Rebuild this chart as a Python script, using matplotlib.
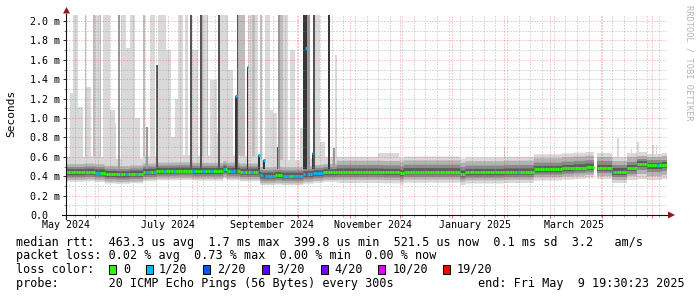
#!/usr/bin/env python3
"""SmokePing style latency chart: one year of median rtt with ping smoke."""

import matplotlib
matplotlib.use("Agg")
import matplotlib.dates as mdates
import matplotlib.pyplot as plt
import numpy as np
import pandas as pd
from matplotlib.collections import LineCollection
from matplotlib.patches import Polygon, Rectangle
from matplotlib.ticker import MultipleLocator, NullFormatter
from matplotlib.transforms import offset_copy

W, H = 697, 297
START = pd.Timestamp("2024-05-14 19:30")
END = pd.Timestamp("2025-05-09 19:30:23")
nan = float("nan")

# median rtt (ms), each value holds until the next date
median_dates = ["2024-05-14", "2024-05-26", "2024-06-01", "2024-06-07", "2024-06-14", "2024-06-22",
                "2024-06-30", "2024-07-08", "2024-07-20", "2024-07-30", "2024-08-17", "2024-08-19",
                "2024-08-27", "2024-09-08", "2024-09-09", "2024-09-17", "2024-09-21", "2024-10-04",
                "2024-10-10", "2024-10-16", "2024-10-24", "2024-11-21", "2024-12-01", "2024-12-03",
                "2025-01-06", "2025-01-09", "2025-02-01", "2025-02-19", "2025-03-08", "2025-03-15",
                "2025-03-22", "2025-03-27", "2025-03-29", "2025-04-07", "2025-04-16", "2025-04-22",
                "2025-04-28", "2025-05-07"]
median_ms = [0.440, 0.445, 0.438, 0.422, 0.418, 0.425,
             0.445, 0.455, 0.458, 0.452, 0.470, 0.455,
             0.445, 0.410, 0.405, 0.410, 0.405, 0.420,
             0.430, 0.440, 0.445, 0.442, 0.430, 0.448,
             0.425, 0.440, 0.445, 0.470, 0.480, 0.488,
             0.495, nan, 0.485, 0.446, 0.480, 0.525,
             0.512, 0.520]

# runs of days with 1/20 packet loss
loss_dates = ["2024-05-26", "2024-06-02", "2024-06-16", "2024-06-19", "2024-06-26", "2024-07-01",
              "2024-07-06", "2024-07-12", "2024-07-18", "2024-07-29", "2024-08-04", "2024-08-09",
              "2024-08-17", "2024-08-21", "2024-08-29", "2024-09-02", "2024-09-08", "2024-09-21",
              "2024-09-28", "2025-02-09", "2025-04-07", "2025-05-04"]
loss_days = [1, 2, 1, 2, 1, 3, 1, 1, 1, 2, 2, 2, 1, 3, 1, 2, 9, 5, 18, 1, 1, 1]

# single days where the median itself jumped up (all with 1/20 loss)
high_dates = ["2024-08-24", "2024-08-31", "2024-09-07", "2024-09-10", "2024-10-05", "2024-10-09"]
high_ms = [1.23, 1.53, 0.62, 0.57, 1.72, 0.64]
high_loss = [1, 1, 1, 1, 1, 1]

# smoke spread around the median (ms), outer layer first, one value per period
smoke_era_dates = ["2024-05-14", "2024-10-24", "2025-04-22"]
smoke_lo_ms = [[-0.097, -0.115, -0.150],
               [-0.078, -0.082, -0.105],
               [-0.052, -0.055, -0.065],
               [-0.030, -0.030, -0.035]]
smoke_hi_ms = [[0.160, 0.155, 0.120],
               [0.085, 0.115, 0.085],
               [0.055, 0.070, 0.050],
               [0.032, 0.035, 0.028]]

# outlier columns: first day, number of days, top (ms), pings of 20 that high
spike_dates = ["2024-05-17", "2024-05-19", "2024-05-22", "2024-05-26", "2024-05-27", "2024-05-31",
               "2024-06-01", "2024-06-04", "2024-06-06", "2024-06-10", "2024-06-15", "2024-06-17",
               "2024-06-20", "2024-06-22", "2024-06-25", "2024-06-30", "2024-07-02", "2024-07-04",
               "2024-07-08", "2024-07-09", "2024-07-14", "2024-07-17", "2024-07-21", "2024-07-25",
               "2024-07-28", "2024-07-29", "2024-08-03", "2024-08-04", "2024-08-05", "2024-08-07",
               "2024-08-09", "2024-08-14", "2024-08-15", "2024-08-20", "2024-08-24", "2024-08-25",
               "2024-08-26", "2024-08-31", "2024-09-01", "2024-09-03", "2024-09-05", "2024-09-07",
               "2024-09-08", "2024-09-10", "2024-09-11", "2024-09-14", "2024-09-18", "2024-09-19",
               "2024-09-20", "2024-09-22", "2024-09-26", "2024-10-04", "2024-10-06", "2024-10-09",
               "2024-10-10", "2024-10-11", "2024-10-14", "2024-10-19", "2024-10-22", "2024-10-23",
               "2024-11-18", "2025-02-01", "2025-04-10", "2025-04-18", "2025-04-22", "2025-05-01",
               "2025-05-03", "2024-06-12", "2024-07-19", "2024-08-12", "2024-09-16", "2024-10-02"]
spike_days = [2, 3, 3, 1, 3, 1,
              3, 1, 4, 3, 1, 3,
              2, 3, 3, 1, 1, 3,
              1, 5, 3, 2, 3, 2,
              1, 4, 1, 1, 2, 1,
              4, 1, 5, 3, 1, 1,
              4, 1, 2, 2, 2, 1,
              1, 1, 3, 2, 1, 1,
              2, 3, 3, 2, 2, 1,
              1, 3, 3, 1, 1, 1,
              12, 1, 1, 1, 1, 1,
              1, 2, 2, 2, 2, 2]
spike_top_ms = [1.26, 2.2, 1.11, 2.2, 1.32, 2.2,
                2.2, 2.2, 2.2, 1.08, 2.2, 2.2,
                1.72, 2.2, 1.00, 2.2, 0.91, 2.2,
                1.55, 2.2, 1.70, 0.80, 2.2, 2.2,
                2.2, 1.70, 2.2, 2.2, 2.2, 2.2,
                1.39, 2.2, 2.2, 1.50, 1.23, 2.2,
                2.2, 1.53, 2.2, 2.2, 2.2, 0.62,
                2.2, 0.57, 2.2, 1.08, 0.70, 2.2,
                2.2, 2.2, 1.70, 2.2, 2.2, 0.64,
                2.2, 2.2, 0.75, 2.2, 0.69, 1.65,
                0.64, 0.70, 0.79, 0.68, 0.75, 0.72,
                0.72, 0.95, 1.20, 0.85, 1.05, 0.90]
spike_pings = [1, 1, 1, 3, 1, 3,
               1, 3, 1, 1, 5, 1,
               1, 1, 1, 3, 5, 1,
               8, 1, 1, 1, 1, 1,
               8, 1, 8, 3, 1, 3,
               1, 8, 1, 1, 10, 8,
               3, 10, 1, 3, 1, 10,
               3, 10, 1, 1, 8, 5,
               3, 1, 1, 10, 5, 10,
               8, 1, 1, 10, 5, 1,
               1, 1, 1, 1, 1, 1,
               1, 1, 1, 1, 1, 1]

ytick_ms = [0.0, 0.2, 0.4, 0.6, 0.8, 1.0, 1.2, 1.4, 1.6, 1.8, 2.0]
ytick_labels = ["0.0", "0.2 m", "0.4 m", "0.6 m", "0.8 m", "1.0 m",
                "1.2 m", "1.4 m", "1.6 m", "1.8 m", "2.0 m"]
xlabel_dates = ["2024-05-15", "2024-07-15", "2024-09-15", "2024-11-15", "2025-01-15", "2025-03-15"]
xlabel_text = ["May 2024", "July 2024", "September 2024", "November 2024", "January 2025", "March 2025"]

loss_labels = ["0", "1/20", "2/20", "3/20", "4/20", "10/20", "19/20"]
loss_colors = ["#26ff00", "#00b8ff", "#0059ff", "#5e00ff", "#7e00ff", "#dd00ff", "#ff0000"]

legend_rtt = "median rtt:  463.3 us avg  1.7 ms max  399.8 us min  521.5 us now  0.1 ms sd  3.2   am/s"
legend_loss = "packet loss: 0.02 % avg  0.73 % max  0.00 % min  0.00 % now"
legend_probe = "probe:       20 ICMP Echo Pings (56 Bytes) every 300s"
legend_end = "end: Fri May  9 19:30:23 2025"

SMOKE_COLORS = ["#d8d8d8", "#b2b2b2", "#898989", "#5c5c5c"]
SPIKE_COLORS = {1: "#d9d9d9", 3: "#bdbdbd", 5: "#999999", 8: "#555555", 10: "#363636"}
MONO = "DejaVu Sans Mono"


def fpx(x, y):
    """pixel position (from top left) -> figure fraction"""
    return x / W, 1 - y / H


def step_xy(edges, vals):
    # hold each daily value over its day, NaN days break the fill
    return np.repeat(edges, 2)[1:-1], np.repeat(vals, 2)


def main() -> None:
    plt.rcParams["font.family"] = MONO
    fig = plt.figure(figsize=(W / 100, H / 100), dpi=100)
    ax = fig.add_axes([66 / W, 1 - 215 / H, 601 / W, 200 / H])

    days = pd.date_range("2024-05-14", "2025-05-09", freq="D")
    edges = mdates.date2num(list(days.to_pydatetime()) + [(days[-1] + pd.Timedelta(days=1)).to_pydatetime()])
    med = pd.Series(median_ms, index=pd.to_datetime(median_dates)).reindex(days, method="ffill").to_numpy()
    era = np.searchsorted(pd.to_datetime(smoke_era_dates).values, days.values, side="right") - 1

    # smoke
    for lo_off, hi_off, col in zip(smoke_lo_ms, smoke_hi_ms, SMOKE_COLORS):
        xs, lo = step_xy(edges, med + np.asarray(lo_off)[era])
        _, hi = step_xy(edges, med + np.asarray(hi_off)[era])
        ax.fill_between(xs, lo, hi, color=col, lw=0, zorder=1.2)

    # outlier columns: light ones sit behind the smoke, dark ones on top
    sx = mdates.date2num(pd.to_datetime(spike_dates).to_pydatetime())
    for dark in (False, True):
        sel = [i for i, p in enumerate(spike_pings) if (p >= 5) == dark]
        bottom = 0.47 if dark else 0.5
        ax.bar(sx[sel], [spike_top_ms[i] - bottom for i in sel], width=[spike_days[i] for i in sel],
               bottom=bottom, align="edge", color=[SPIKE_COLORS[spike_pings[i]] for i in sel],
               lw=0, zorder=1.6 if dark else 1.0)

    # median line coloured by loss
    loss = np.zeros(len(days), dtype=int)
    for d, n in zip(loss_dates, loss_days):
        i = days.get_loc(pd.Timestamp(d))
        loss[i:i + n] = 1
    line = med.copy()
    for d in high_dates:
        line[days.get_loc(pd.Timestamp(d))] = nan
    segs, cols = [], []
    for i in range(len(days)):
        if np.isfinite(line[i]):
            segs.append([(edges[i], line[i]), (edges[i + 1], line[i])])
            cols.append(loss_colors[loss[i]])
    for d, v, l in zip(high_dates, high_ms, high_loss):
        i = days.get_loc(pd.Timestamp(d))
        segs.append([(edges[i], v), (edges[i + 1], v)])
        cols.append(loss_colors[l])
    ax.add_collection(LineCollection(segs, colors=cols, linewidths=2.2, capstyle="butt", zorder=3))

    ax.set_xlim(mdates.date2num(START.to_pydatetime()), mdates.date2num(END.to_pydatetime()))
    ax.set_ylim(0, 2.062)

    # grid and ticks (alpha passed on its own, grid.alpha would override an rgba colour)
    ax.xaxis.set_major_locator(mdates.MonthLocator())
    ax.xaxis.set_minor_locator(mdates.WeekdayLocator(byweekday=mdates.MO))
    ax.xaxis.set_major_formatter(NullFormatter())
    ax.set_yticks(ytick_ms, labels=ytick_labels)
    ax.yaxis.set_minor_locator(MultipleLocator(0.1))
    ax.set_axisbelow(False)
    ax.grid(True, which="major", color="#ff1a1a", alpha=0.45, lw=0.72, ls=(0, (1, 2)))
    ax.grid(True, which="minor", color="#8c8c8c", alpha=0.62, lw=0.72, ls=(0, (1, 2)))
    ax.tick_params(axis="x", which="major", direction="out", length=2.2, width=0.72, color="#e07070")
    ax.tick_params(axis="x", which="minor", direction="out", length=1.5, width=0.72, color="#b0b0b0")
    ax.tick_params(axis="y", which="major", direction="out", length=2.2, width=0.72, color="#333333",
                   pad=23.8, labelsize=7.2)
    ax.tick_params(axis="y", which="minor", direction="out", length=1.5, width=0.72, color="#888888")
    for lbl in ax.get_yticklabels():
        lbl.set_horizontalalignment("left")
    for s in ax.spines.values():
        s.set_visible(False)

    lab_tr = offset_copy(ax.get_xaxis_transform(), fig=fig, x=0, y=-13, units="dots")
    for d, t in zip(xlabel_dates, xlabel_text):
        ax.text(mdates.date2num(pd.Timestamp(d).to_pydatetime()), 0, t, transform=lab_tr,
                ha="center", va="baseline", fontsize=7.2)

    # axes with arrows
    ax.plot([-4 / 601, 1 + 2 / 601], [0, 0], transform=ax.transAxes, color="#111111", lw=0.8,
            clip_on=False, zorder=5)
    ax.plot([0, 0], [-4 / 200, 1 + 1 / 200], transform=ax.transAxes, color="#111111", lw=0.8,
            clip_on=False, zorder=5)
    arrow = "#8b1a1a"
    fig.add_artist(Polygon([fpx(668, 211.5), fpx(668, 218.5), fpx(675, 215)], closed=True,
                           transform=fig.transFigure, color=arrow, lw=0))
    fig.add_artist(Polygon([fpx(63, 13.5), fpx(70, 13.5), fpx(66.5, 7)], closed=True,
                           transform=fig.transFigure, color=arrow, lw=0))

    fig.text(*fpx(11, 113), "Seconds", rotation=90, ha="center", va="center", fontsize=8)
    fig.text(*fpx(688.5, 5), "RRDTOOL / TOBI OETIKER", rotation=270, ha="center", va="top",
             fontsize=6.2, color="#b4b4b4")

    # legend block
    lg = dict(fontsize=8.5, va="baseline", color="#000000")
    fig.text(*fpx(15.5, 245.7), legend_rtt, **lg)
    fig.text(*fpx(15.5, 259.3), legend_loss, **lg)
    fig.text(*fpx(15.5, 273.0), "loss color:", **lg)
    box_x = [108.7, 145.7, 203.3, 261.7, 320.7, 378.3, 443.3]
    text_x = [123.0, 159.0, 217.3, 275.7, 334.0, 392.3, 456.3]
    for bx, tx, lab, col in zip(box_x, text_x, loss_labels, loss_colors):
        x0, y0 = fpx(bx, 273.5)
        fig.add_artist(Rectangle((x0, y0), 7 / W, 9 / H, transform=fig.transFigure,
                                 facecolor=col, edgecolor="#000000", lw=0.72))
        fig.text(*fpx(tx, 273.0), lab, **lg)
    fig.text(*fpx(15.5, 286.5), legend_probe, **lg)
    fig.text(*fpx(477.5, 286.5), legend_end, **lg)

    fig.savefig("out.png", dpi=100, facecolor="white")


if __name__ == "__main__":
    main()
